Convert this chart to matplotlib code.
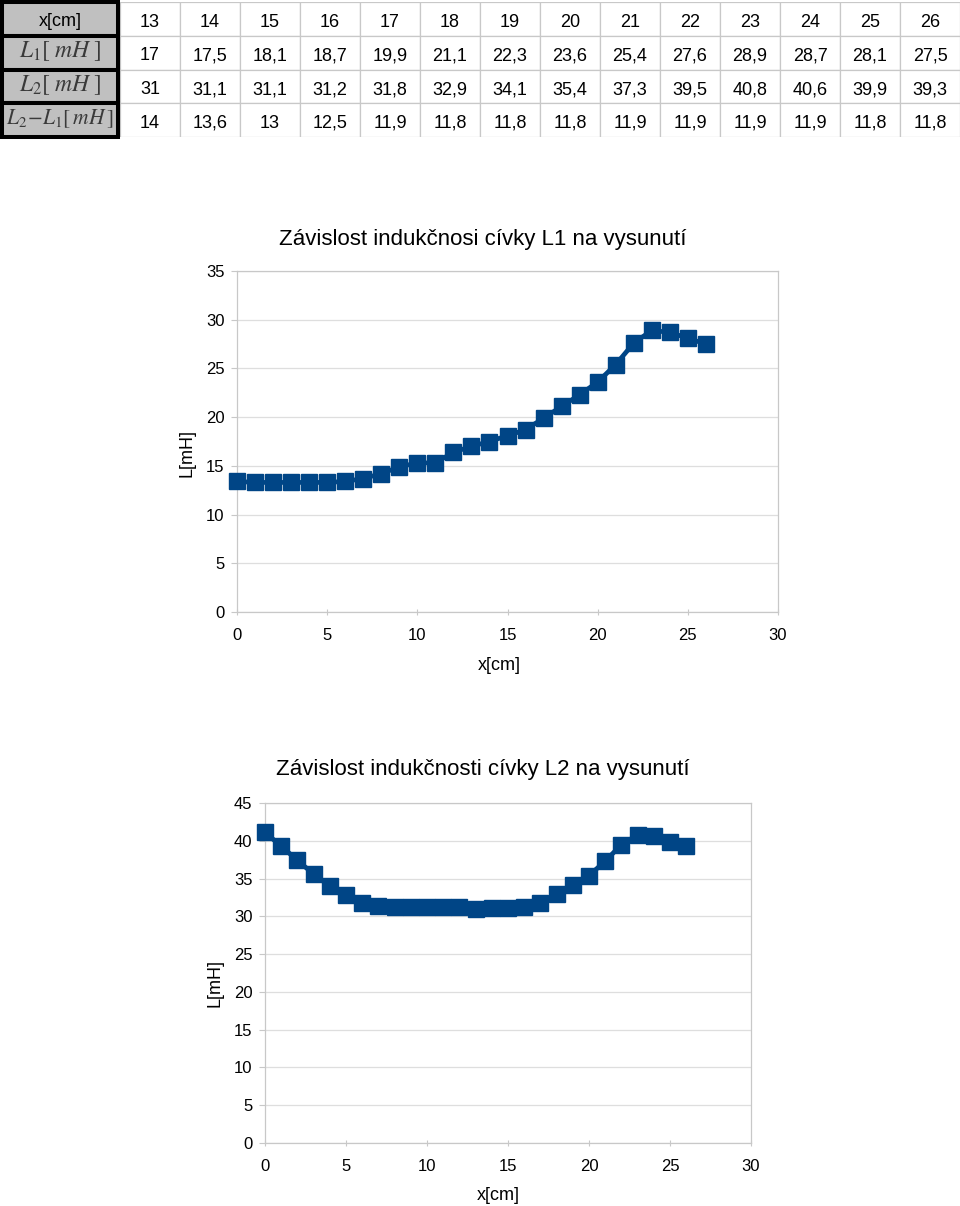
import matplotlib
matplotlib.use('Agg')
import matplotlib.pyplot as plt
from matplotlib.patches import Rectangle

plt.rcParams['font.family'] = ['Liberation Sans', 'DejaVu Sans']
plt.rcParams['mathtext.fontset'] = 'stix'

# table values (x = 13..26)
tab_x = [13, 14, 15, 16, 17, 18, 19, 20, 21, 22, 23, 24, 25, 26]
tab_L1 = [17, 17.5, 18.1, 18.7, 19.9, 21.1, 22.3, 23.6, 25.4, 27.6, 28.9, 28.7, 28.1, 27.5]
tab_L2 = [31, 31.1, 31.1, 31.2, 31.8, 32.9, 34.1, 35.4, 37.3, 39.5, 40.8, 40.6, 39.9, 39.3]
tab_diff = [14, 13.6, 13, 12.5, 11.9, 11.8, 11.8, 11.8, 11.9, 11.9, 11.9, 11.9, 11.8, 11.8]
row_labels = ['x[cm]', r'$L_1[\;mH\;]$', r'$L_2[\;mH\;]$', r'$L_2\!-\!L_1[\,mH\,]$']

# x = 0..12, the rest is from the table
L1_start = [13.4, 13.3, 13.3, 13.3, 13.3, 13.3, 13.4, 13.7, 14.2, 14.9, 15.3, 15.3, 16.4]
L2_start = [41.1, 39.3, 37.4, 35.6, 34.0, 32.8, 31.7, 31.4, 31.3, 31.2, 31.2, 31.2, 31.2]
x_cm = list(range(13)) + tab_x
L1 = L1_start + tab_L1
L2 = L2_start + tab_L2

title1 = 'Závislost indukčnosi cívky L1 na vysunutí'
title2 = 'Závislost indukčnosti cívky L2 na vysunutí'

W, H = 960, 1206
BLUE = '#004586'


def fmt(v):
    return ('%g' % v).replace('.', ',')


fig = plt.figure(figsize=(W / 100, H / 100), dpi=100)

# --- table on top ---
axt = fig.add_axes([0, 1 - 137 / H, 1, 135 / H])
axt.set_xlim(0, 16)
axt.set_ylim(4, 0)
axt.axis('off')

rows = [tab_x, tab_L1, tab_L2, tab_diff]
for r, vals in enumerate(rows):
    for c, v in enumerate(vals):
        axt.add_patch(Rectangle((2 + c, r), 1, 1, fc='white', ec='#c8c8c8', lw=0.9))
        axt.text(2.5 + c, r + 0.6, fmt(v), ha='center', va='center', fontsize=13)
for r, lab in enumerate(row_labels):
    axt.add_patch(Rectangle((0.035, r), 1.93, 1, fc='#c0c0c0', ec='black', lw=2.9,
                            clip_on=False, zorder=3))
    if r == 0:
        axt.text(1, r + 0.58, lab, ha='center', va='center', fontsize=13, zorder=4)
    else:
        # last label is long, keep it inside the cell
        size = 17 if r < 3 else 15.5
        axt.text(1, r + 0.45, lab, ha='center', va='center', fontsize=size,
                 color='#3a3a3a', zorder=4)


# --- the two charts ---
def chart(box, ydata, ymax, title, title_y, xlab_xy, ylab_xy):
    l, r, t, b = box
    ax = fig.add_axes([l / W, 1 - b / H, (r - l) / W, (b - t) / H])
    ax.plot(x_cm, ydata, color=BLUE, lw=3.4, marker='s', ms=11, clip_on=False, zorder=3)
    ax.set_xlim(0, 30)
    ax.set_ylim(0, ymax)
    ax.set_xticks(range(0, 31, 5))
    ax.set_yticks(range(0, ymax + 1, 5))
    ax.yaxis.grid(True, color='#dedede', lw=0.9)
    ax.set_axisbelow(True)
    for s in ax.spines.values():
        s.set_color('#c8c8c8')
        s.set_linewidth(0.9)
    ax.tick_params(axis='x', direction='inout', length=5, color='#c8c8c8', labelsize=12, pad=9)
    ax.tick_params(axis='y', direction='out', length=4, color='#c8c8c8', labelsize=12, pad=5)
    fig.text(483 / W, 1 - title_y / H, title, ha='center', va='center', fontsize=16)
    fig.text(xlab_xy[0] / W, 1 - xlab_xy[1] / H, 'x[cm]', ha='center', va='center', fontsize=13)
    fig.text(ylab_xy[0] / W, 1 - ylab_xy[1] / H, 'L[mH]', ha='center', va='center',
             rotation=90, fontsize=13)
    return ax


chart((237, 778, 271, 612), L1, 35, title1, 240, (499, 665), (187, 453))
chart((265, 751, 803, 1143), L2, 45, title2, 770, (498, 1196), (215, 983))

fig.savefig('out.png', dpi=100)
